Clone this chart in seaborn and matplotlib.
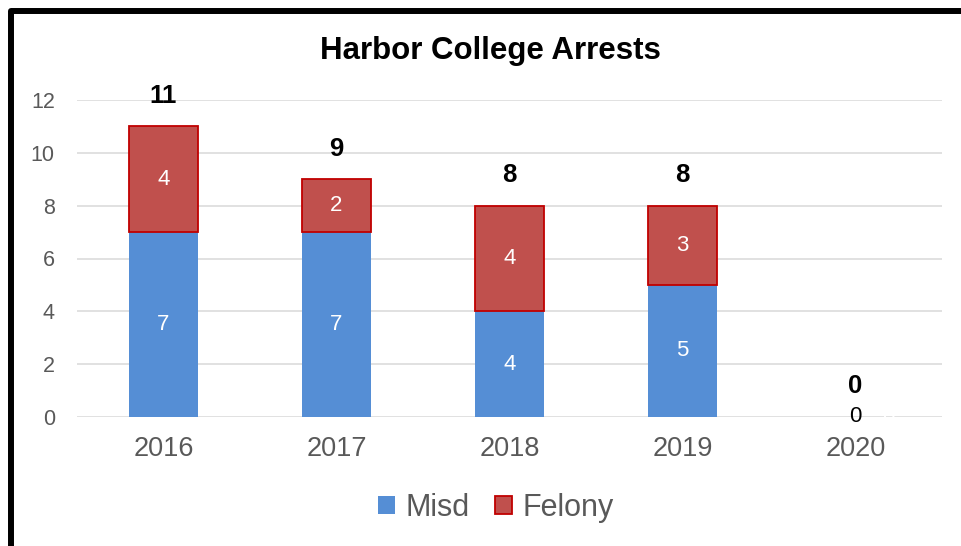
import matplotlib
matplotlib.use("Agg")
import matplotlib.pyplot as plt
from matplotlib.patches import Rectangle
import pandas as pd
import seaborn as sns

# chart data
years = ["2016", "2017", "2018", "2019", "2020"]
misd = [7, 7, 4, 5, 0]
felony = [4, 2, 4, 3, 0]
totals = [m + f for m, f in zip(misd, felony)]
y_ticks = [0, 2, 4, 6, 8, 10, 12]

BLUE = "#558ED5"
RED = "#C0504D"
RED_EDGE = "#C00000"
GRAY_TXT = "#595959"

df = pd.DataFrame({"year": years, "misd": misd, "felony": felony})

sns.set_style("white")
plt.rcParams["font.family"] = ["Liberation Sans", "DejaVu Sans"]
plt.rcParams["text.color"] = "black"

fig = plt.figure(figsize=(9.61, 5.46), dpi=100)
ax = fig.add_axes([77 / 961, 129 / 546, 865 / 961, 317 / 546])

sns.barplot(data=df, x="year", y="misd", color=BLUE, saturation=1,
            width=0.4, linewidth=0, ax=ax, label="Misd")
sns.barplot(data=df, x="year", y="felony", bottom=df["misd"].values, color=RED,
            saturation=1, width=0.4, edgecolor=RED_EDGE, linewidth=1.3,
            ax=ax, label="Felony")

# no outline for empty bars
for p in ax.patches:
    if p.get_height() == 0:
        p.set_edgecolor("none")

ax.set_xlim(-0.5, 4.5)
ax.set_ylim(0, 12)
ax.set_yticks(y_ticks)
ax.yaxis.grid(True, color="#D9D9D9", linewidth=1.1)
ax.set_axisbelow(True)
sns.despine(ax=ax, left=True, bottom=True)
ax.set_xlabel("")
ax.set_ylabel("")
ax.tick_params(axis="y", length=0, pad=16, labelsize=15.5, labelcolor=GRAY_TXT)
ax.tick_params(axis="x", length=0, pad=14, labelsize=19.5, labelcolor=GRAY_TXT)

# segment labels
for i, (m, f) in enumerate(zip(misd, felony)):
    if m > 0:
        ax.text(i, m / 2, str(m), ha="center", va="center", color="white", fontsize=16)
    else:
        ax.text(i, 0, "0", ha="center", va="center", color="black", fontsize=16)
    if f > 0:
        ax.text(i, m + f / 2, str(f), ha="center", va="center", color="white", fontsize=16)
    else:
        ax.text(i + 0.19, 0, "0", ha="center", va="center", color="white", fontsize=16)

# totals above bars
for i, t in enumerate(totals):
    ax.annotate(str(t), (i, t), xytext=(0, 22), textcoords="offset points",
                ha="center", va="center", fontsize=18.5, fontweight="bold",
                color="black")

fig.text(490 / 961, 495 / 546, "Harbor College Arrests", ha="center", va="center",
         fontsize=22.5, fontweight="bold", color="black")

handles, labels = ax.get_legend_handles_labels()
leg = fig.legend(handles, labels, loc="center", bbox_to_anchor=(496 / 961, 38 / 546),
                 ncol=2, frameon=False, fontsize=22, handlelength=0.55,
                 handleheight=0.55, handletextpad=0.33, columnspacing=0.85)
for t in leg.get_texts():
    t.set_color(GRAY_TXT)
if ax.legend_:
    ax.legend_.remove()

# outer black frame (partly cut off at right/bottom like the reference)
fig.add_artist(Rectangle((11 / 961, -0.2), 1.2, 1.2 - 11 / 546,
                         transform=fig.transFigure, fill=False, edgecolor="black",
                         linewidth=4.3, joinstyle="round"))

fig.savefig("out.png", dpi=100)
